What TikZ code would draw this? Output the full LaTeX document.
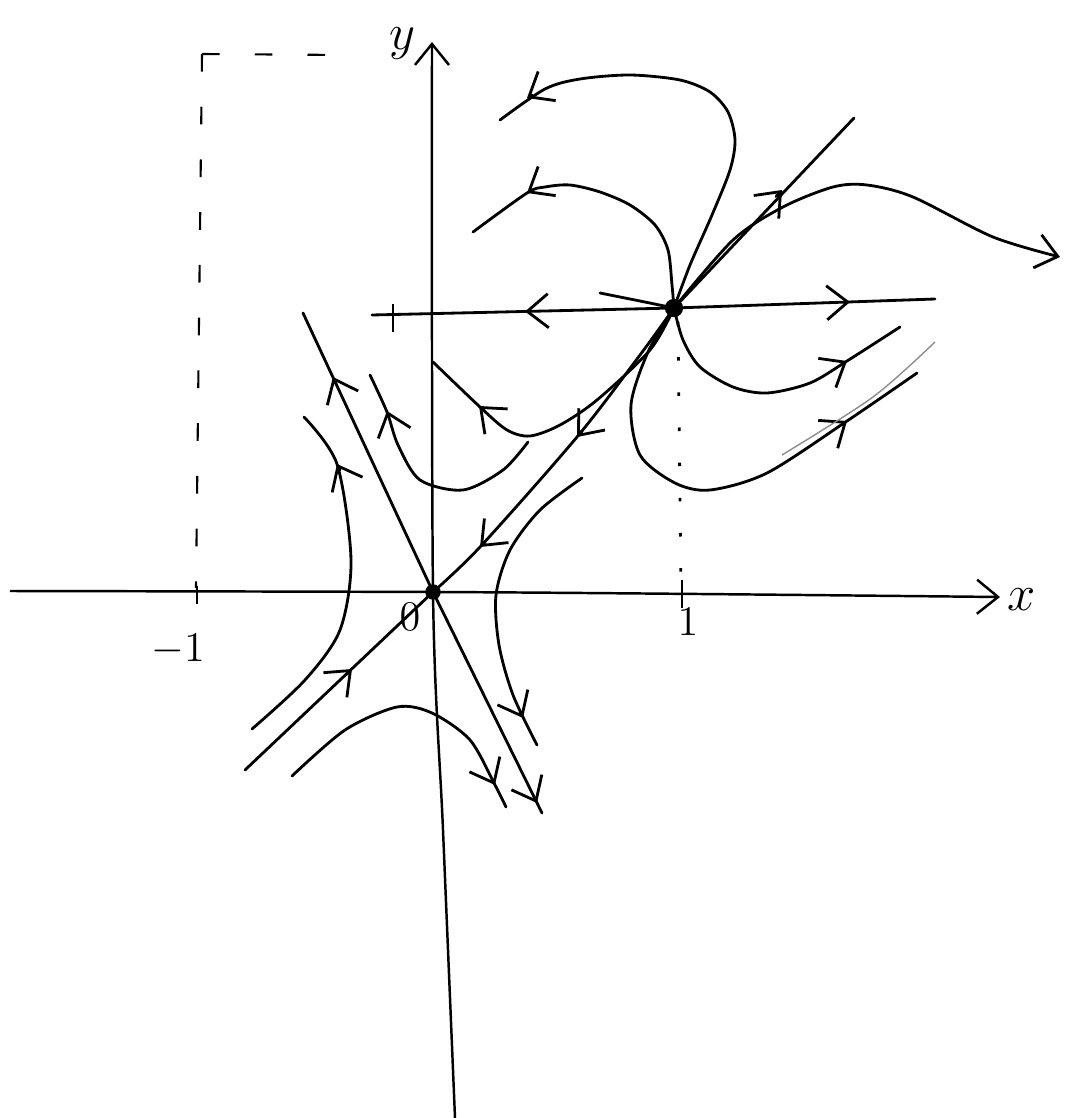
\documentclass[tikz,border=0pt]{standalone}
\usepackage{tikz}
\usetikzlibrary{arrows.meta}

\tikzset{
  orbit/.style={line width=0.8pt, line cap=round},
  tip/.style={orbit, ->},
  axis/.style={line width=0.7pt},
  guide/.style={line width=0.6pt, dash pattern=on 5pt off 10pt},
  faint/.style={line width=0.4pt, black!45},
}

\begin{document}
\begin{tikzpicture}[x=0.01cm, y=-0.01cm, >={Straight Barb[length=2.1mm,width=3.4mm]}]
\useasboundingbox (0,0) rectangle (1073,1118);

% fixed points
\coordinate (O) at (433,592);
\coordinate (P) at (674,308);

% axes
\draw[axis,->] plot[smooth] coordinates {(10,591) (433,592) (700,594) (1000,597)};
\draw[axis,->] plot[smooth] coordinates {(455,1118) (443,830) (433,592) (432,42)};
\node[font=\Large] (xlab) at (1022,600) {$x$};
\node[font=\Large] (ylab) at (402,44) {$y$};

% ticks and labels
\draw[axis] (197,586) -- (197,604);
\draw[axis] (682,580) -- (682,608);
\draw[axis] (393,304) -- (393,332);
\node[font=\large] (mone) at (178,650) {$-1$};
\node[font=\large] (zero) at (410,617) {$0$};
\node[font=\large] (one) at (688,622) {$1$};

% guide lines
\draw[guide] (202,54) -- (347,55);
\draw[guide] (202,54) -- (196,588);
\draw[line width=0.8pt, dash pattern=on 1pt off 9pt] (678,322) -- (681,588);

% line y=1
\draw[orbit] (372,315) -- (P) -- (935,299);
\draw[tip] (531,311.3) -- (525,311.5);
\draw[tip] (844,302.2) -- (850,302);
\draw[orbit] (P) .. controls (645,302) .. (600,293);

% diagonal through O and P
\draw[orbit] (245,770) -- (O);
\draw[tip] (346,674.7) -- (352,669);
\draw[orbit] plot[smooth] coordinates {(P) (640,355) (577,437) (480,547) (O)};
\draw[tip] (582,431) -- (577,437);
\draw[tip] (485,542) -- (480,547);
\draw[orbit] (P) -- (854,118);
\draw[tip] (776,196.5) -- (782,190);

% other line through O
\draw[orbit] (303,313) -- (O) -- (542,813);
\draw[tip] (336,383.5) -- (333,377);
\draw[tip] (534,797) -- (537,803);

% orbits round the saddle at O
\draw[orbit] plot[smooth] coordinates {(252,729) (305,680) (340,630) (351,560) (337,464) (304,417)};
\draw[tip] (340,470) -- (337,464);
\draw[orbit] plot[smooth] coordinates {(292,776) (345,730) (397,707) (432,713) (470,740) (495,785) (506,807)};
\draw[tip] (492,779) -- (495,785);
\draw[orbit] plot[smooth] coordinates {(582,478) (540,510) (510,550) (496,595) (499,645) (513,695) (537,745)};
\draw[tip] (520,712) -- (523,718);
\draw[orbit] plot[smooth] coordinates {(528,442) (503,470) (463,490) (420,480) (398,445) (387,412) (370,375)};
\draw[tip] (389,417) -- (387,411);

% orbits leaving P
\draw[orbit] plot[smooth] coordinates {(P) (650,350) (597,400) (560,425) (530,436) (507,430) (480,407) (433,362)};
\draw[tip] (484,410.5) -- (479,406);
\draw[orbit] plot[smooth] coordinates {(P) (683,340) (700,367) (733,387) (767,393) (810,383) (847,361) (900,327)};
\draw[tip] (842,364) -- (847,361);
\draw[orbit] plot[smooth] coordinates {(P) (648,352) (631,405) (640,455) (675,483) (710,490) (767,473) (847,421) (917,373)};
\draw[tip] (842,424.5) -- (847,421);
\draw[faint] plot[smooth] coordinates {(782,455) (873,397) (935,342)};
\draw[orbit] plot[smooth] coordinates {(P) (690,265) (712,215) (730,170) (735,140) (728,112) (710,92) (680,80) (630,75) (580,79) (545,89) (500,120)};
\draw[tip] (532,95) -- (527,98);
\draw[orbit] plot[smooth] coordinates {(P) (672,285) (668,250) (655,225) (630,205) (600,192) (570,185) (545,187) (527,193) (473,232)};
\draw[tip] (532,190) -- (527,193);
\draw[orbit,->] plot[smooth] coordinates {(P) (733,240) (783,207) (833,187) (867,185) (913,197) (993,237) (1060,257)};

\fill (O) circle[radius=2.2pt];
\fill (P) circle[radius=2.6pt];
\end{tikzpicture}
\end{document}
